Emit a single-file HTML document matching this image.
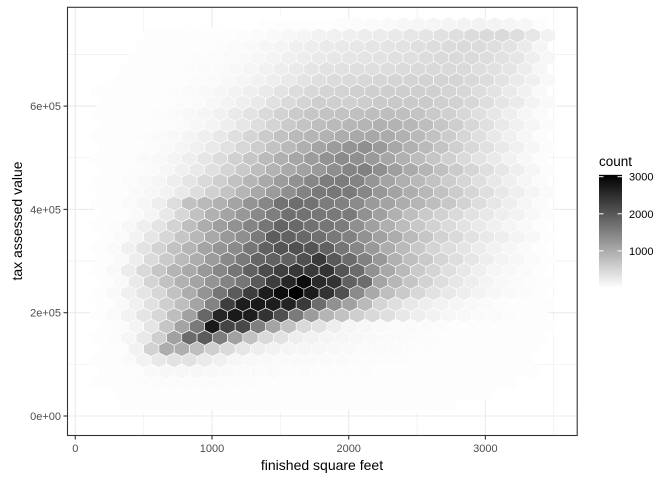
<!DOCTYPE html>
<html><head><meta charset="utf-8"><style>
html,body{margin:0;padding:0;background:#fff;}
svg{display:block;font-family:"Liberation Sans",Arial,sans-serif;}
</style></head><body>
<svg id="chart" width="672" height="480" viewBox="0 0 672 480" xmlns="http://www.w3.org/2000/svg">
<rect x="0" y="0" width="672" height="480" fill="#fff"/>
<g id="grid"></g>
<g id="hexes"></g>
<rect x="67.5" y="7.3" width="509.7" height="428.2" fill="none" stroke="#333" stroke-width="1.1"/>
<g id="axes"></g>
<text x="322" y="470" font-size="14" text-anchor="middle" fill="#000">finished square feet</text>
<text x="22" y="221" font-size="14" text-anchor="middle" fill="#000" transform="rotate(-90 22 221)">tax assessed value</text>
<g id="legend">
<text x="599" y="166" font-size="13.5" fill="#000">count</text>
</g>
</svg>
<script>
const xTicks=[0,1000,2000,3000];
const xTickLabels=["0","1000","2000","3000"];
const xMinor=[500,1500,2500,3500];
const yTicks=[0,200000,400000,600000];
const yTickLabels=["0e+00","2e+05","4e+05","6e+05"];
const yMinor=[100000,300000,500000,700000];
const legendTicks=[1000,2000,3000];
const legendLabels=["1000","2000","3000"];
// hex bin centers (data units)
const binX0=165.2, binDX=111.6, binY0=758567, binDY=21684;
// counts in hundreds, row-major, top row first, 30 columns per row
const counts=[
[0,0,0,0,0,0,0,0,0,0,0,.2,.3,.3,.4,.5,.6,.7,.9,1,1.2,1.3,1.5,1.6,1.7,1.8,1.7,1.5,1.2,.5],
[0,0,0,.3,.3,.3,.4,.4,.5,.6,.8,1,1.2,1.5,1.8,2,2.2,2.4,2.6,2.9,3.2,3.5,3.8,4.1,4.4,4.6,4.6,4.2,3.2,1.8],
[0,0,0,.3,.3,.4,.5,.5,.6,.8,1,1.3,1.6,2,2.4,2.7,2.9,3.1,3.3,3.5,3.7,4,4.3,4.5,4.6,4.5,4.2,3.6,2.6,1.5],
[0,0,.2,.3,.4,.5,.6,.7,.8,1,1.3,1.6,2,2.4,2.8,3.1,3.3,3.5,3.7,3.9,4.1,4.4,4.6,4.7,4.6,4.3,3.8,3.2,2.2,1.3],
[0,0,.2,.3,.4,.5,.6,.7,.9,1.1,1.4,1.8,2.3,2.8,3.4,3.7,3.8,4,4.1,4.3,4.5,4.7,4.8,4.8,4.6,4.2,3.8,3.3,2.5,1.3],
[0,.1,.2,.3,.4,.5,.7,.9,1.1,1.4,1.8,2.3,2.9,3.5,4.1,4.5,4.7,4.9,5.1,5.3,5.4,5.5,5.4,5.2,4.8,4.3,3.6,2.8,2,1.1],
[.1,.1,.2,.3,.4,.6,.8,1,1.3,1.7,2.2,2.8,3.6,4.3,4.9,5.2,5.5,5.8,6,6.1,6.1,6,5.8,5.4,5,4.3,3.6,2.8,1.9,1],
[.1,.2,.3,.4,.5,.7,.9,1.2,1.6,2.2,2.9,3.8,4.7,5.4,6.1,6,5.8,6.2,6.6,6.7,6.6,6.4,6,5.6,5,4.2,3.4,2.6,1.7,1],
[.1,.2,.3,.4,.6,.8,1.1,1.4,1.9,2.7,3.6,4.6,5.6,6.4,7,7.2,7.4,7.7,8,8,7.8,7.3,6.6,5.8,4.9,4,3.1,2.3,1.5,.8],
[.1,.2,.3,.5,.7,.9,1.2,1.6,2.3,3.2,4.3,5.4,6.5,7.3,8,8.4,8.8,9.2,9.5,9.3,8.8,8,7,6.1,5,3.9,2.9,2.1,1.4,.7],
[.2,.3,.4,.6,.8,1.1,1.6,2.2,3,4,5.2,6.4,7.5,8.4,9,9.4,10,10.5,10.6,10.2,9.5,8.6,7.5,6.3,5.1,4,3,2.1,1.3,.6],
[.2,.3,.5,.7,1,1.4,2,2.8,3.8,5,6.2,7.4,8.6,9.8,11,12,13,13.5,12.2,10.6,9.5,8.4,7.2,6,4.9,3.8,2.9,2,1.3,.6],
[.2,.3,.5,.8,1.1,1.6,2.3,3.2,4.4,5.7,7,8.3,9.6,10.8,12,13.2,14,13.6,12.2,10.8,9.5,8.2,7,5.8,4.7,3.6,2.7,1.9,1.2,.6],
[.2,.4,.6,.9,1.3,2,2.9,3.9,5.2,6.6,8,9.3,10.4,11.3,12.2,13.5,14.8,15.2,13.5,11.8,10.3,9,7.7,6.4,5.2,4.1,3.1,2.2,1.4,.7],
[.3,.4,.7,1,1.5,2.3,3.4,4.6,6,7.5,9,10.5,12,13.3,14.6,15.7,15.8,15,12.8,11,9.7,8.6,7.5,6.3,5.1,4,3,2.2,1.5,.8],
[.3,.5,.8,1.2,1.8,2.8,4.2,5.7,7.3,9,10.6,12.1,13.6,15,16.2,16.4,16,14.5,12.6,11.2,9.9,8.7,7.5,6.3,5.1,4,3,2.2,1.5,.8],
[.3,.5,.8,1.3,2.3,4.3,7.6,8.6,9.5,11,13,14.5,17,17.5,17,15.8,15.2,14,12.2,11.2,10,9,8,6.8,5.5,4.3,3.2,2.3,1.5,.8],
[.3,.5,.8,1.5,3,5,7.5,9.5,11,12.5,14.2,15.6,17.2,17,16.4,16.2,16,13.3,11.5,9.5,8,6.6,5.6,4.7,3.7,3,2.3,1.8,1.1,.6],
[.3,.6,1.2,2.2,3.5,5.5,8,10,11.8,13.2,14.8,16.5,18.5,18,17,16.5,15.8,13.5,11.5,9.8,8.2,6.8,5.6,4.5,3.6,2.8,2.1,1.5,1,.5],
[.4,.8,1.7,3.2,5,7,8.7,10.5,12.3,13.5,16,19.5,19,18,17.2,16.2,15.2,13.3,11.4,10,8.5,7,5.6,4.6,3.7,2.9,2.3,1.6,1.1,.5],
[.4,.9,2,3.6,5.5,7.5,9,11,12.8,14,16.5,19,20.5,21,20.5,19,16.5,14.5,12.3,10,8.5,6.8,5.4,4.3,3.3,2.5,1.8,1.3,.9,.4],
[.5,1,2.4,4.5,6.5,8.5,10,12,14.2,16,18.5,19,19,21,23.6,20,17.8,15.2,12.5,9.5,8,6.6,5.3,4.2,3.2,2.3,1.6,1.2,.9,.4],
[.5,1,2.5,4.8,7,9,10.5,12.5,14.5,16.5,19,21.5,23,24,23.8,24.4,20.5,17.8,13.3,10.5,8.5,6.5,5.2,4,3,2.2,1.5,1.1,.8,.4],
[.5,1,2.7,5.4,7.5,9.5,11,13,15,16.5,20,23.3,26,29,25.5,24.4,19,17.6,10.9,8.8,7.1,5.5,4.2,3.1,2.3,1.6,1.1,.8,.6,.3],
[.5,1,2,3.4,5,7.5,10,13,16.5,19.7,23.3,27.1,29,30.5,27.4,24.5,21,14,10.5,8,6.6,5,3.7,3,2.3,1.7,1.2,1,.7,.3],
[.5,1,2,3.8,6,8,11,15,23.3,27.1,27.4,27.1,26.4,23.6,17.6,13.3,11.4,8.5,5.2,4,3,2.3,1.8,1.4,1.1,.8,.6,.5,.4,.2],
[.4,.8,1.8,3.4,5,8,11.4,18.3,26,27.4,27,24.4,21,16,12,9,7.5,6,4.8,4,3,2.3,1.8,1.3,1.1,.9,.8,.6,.4,.2],
[.4,.7,1.6,3.4,7,11,16,27.4,22.4,21.9,15.5,11,7.6,4.7,3.7,2.3,1.5,1.2,1,.9,.8,.7,.6,.5,.5,.4,.3,.3,.2,.1],
[.3,.6,1.3,2.9,6,11.4,17.8,19.7,15.7,11.4,7.6,4.7,3.7,2.3,1.8,1.5,1.3,1.2,1,.9,.8,.7,.6,.5,.4,.4,.3,.2,.2,.1],
[.2,.5,1.8,5.6,10,9.8,8,6,4.7,3.2,2.3,1.8,1.5,1.3,1.2,1.1,1,.9,.8,.7,.6,.6,.5,.5,.4,.3,.3,.2,.1,0],
[.2,.4,.9,1.8,3,3.7,3.7,2.8,2,1.3,1.1,1,.9,.9,.8,.8,.8,.7,.7,.6,.6,.5,.5,.4,.4,.3,.3,.2,.1,0],
[.2,.3,.6,1,1.2,1.3,1.2,1.1,1,.9,.8,.8,.7,.7,.6,.6,.6,.6,.5,.5,.5,.5,.4,.4,.3,.3,.2,.2,.1,0],
[.1,.2,.4,.6,.7,.7,.7,.7,.7,.6,.6,.5,.5,.5,.5,.5,.5,.5,.4,.4,.4,.4,.3,.3,.3,.2,.2,.1,0,0],
[0,.2,.3,.4,.5,.5,.5,.5,.4,.4,.4,.4,.4,.4,.4,.4,.4,.4,.3,.3,.3,.3,.3,.2,.2,.1,0,0,0,0],
[0,0,.2,.2,.3,.3,.3,.3,.3,.3,.3,.3,.3,.3,.3,.3,.3,.3,.2,.2,.2,.2,.2,.1,0,0,0,0,0,0]
];
const NS="http://www.w3.org/2000/svg";
function xs(v){return 75.3+v*0.1367;}
function ys(v){return 416-v/200000*103.3;}
function mk(tag,attrs,parent){const e=document.createElementNS(NS,tag);for(const k in attrs)e.setAttribute(k,attrs[k]);parent.appendChild(e);return e;}
function gray(c){let t=Math.max(0,Math.min(1,(c-0.5)/30));const g=Math.round(253-t*253);return "rgb("+g+","+g+","+g+")";}
const grid=document.getElementById('grid');
xMinor.forEach(v=>{const l=mk('line',{x1:xs(v),x2:xs(v),y1:7.3,y2:435.5,stroke:'#ebebeb','stroke-width':0.55},grid);

});
yMinor.forEach(v=>{const l=mk('line',{x1:67.5,x2:577.2,y1:ys(v),y2:ys(v),stroke:'#ebebeb','stroke-width':0.55},grid);

});
xTicks.forEach(v=>{const l=mk('line',{x1:xs(v),x2:xs(v),y1:7.3,y2:435.5,stroke:'#ebebeb','stroke-width':1.1},grid);

});
yTicks.forEach(v=>{const l=mk('line',{x1:67.5,x2:577.2,y1:ys(v),y2:ys(v),stroke:'#ebebeb','stroke-width':1.1},grid);

});
const hexG=document.getElementById('hexes');
const hw=xs(55.8)-xs(0), R=ys(0)-ys(14463);
counts.forEach((row,r)=>{
  row.forEach((c,j)=>{
    if(c<=0)return;
    const dx=binX0+j*binDX+(r%2===1?binDX/2:0);
    const dy=binY0-r*binDY;
    const cx=xs(dx), cy=ys(dy);
    const pts=[[cx,cy-R],[cx+hw,cy-R/2],[cx+hw,cy+R/2],[cx,cy+R],[cx-hw,cy+R/2],[cx-hw,cy-R/2]].map(p=>p[0].toFixed(2)+","+p[1].toFixed(2)).join(" ");
    const p=mk('polygon',{points:pts,fill:gray(c),stroke:'#fff','stroke-width':0.6},hexG);
    
    
  });
});
const axes=document.getElementById('axes');
xTicks.forEach((v,i)=>{
  const t=mk('line',{x1:xs(v),x2:xs(v),y1:435.5,y2:439.5,stroke:'#333','stroke-width':1.1},axes);
  
  
  const tx=mk('text',{x:xs(v),y:452,'font-size':11,'text-anchor':'middle',fill:'#4d4d4d'},axes);
  tx.textContent=xTickLabels[i];
  
  
});
yTicks.forEach((v,i)=>{
  const t=mk('line',{x1:63.5,x2:67.5,y1:ys(v),y2:ys(v),stroke:'#333','stroke-width':1.1},axes);
  
  
  const tx=mk('text',{x:61,y:ys(v)+4,'font-size':11,'text-anchor':'end',fill:'#4d4d4d'},axes);
  tx.textContent=yTickLabels[i];
  
  
});
const leg=document.getElementById('legend');
function ly(v){return 288-v*0.0371;}
const defs=mk('defs',{},leg);
const lg=mk('linearGradient',{id:'cb',x1:0,y1:1,x2:0,y2:0},defs);
mk('stop',{offset:0,'stop-color':'#ffffff'},lg);
mk('stop',{offset:1,'stop-color':'#000000'},lg);
const bar=mk('rect',{x:599,y:ly(3050),width:23,height:288-ly(3050),fill:'url(#cb)'},leg);


legendTicks.forEach((v,i)=>{
  const a=mk('line',{x1:599,x2:603.5,y1:ly(v),y2:ly(v),stroke:'#fff','stroke-width':1},leg);
  
  
  const b=mk('line',{x1:617.5,x2:622,y1:ly(v),y2:ly(v),stroke:'#fff','stroke-width':1},leg);
  
  
  const tx=mk('text',{x:629,y:ly(v)+4,'font-size':11,fill:'#000'},leg);
  tx.textContent=legendLabels[i];
  
  
});
</script>
</body></html>
